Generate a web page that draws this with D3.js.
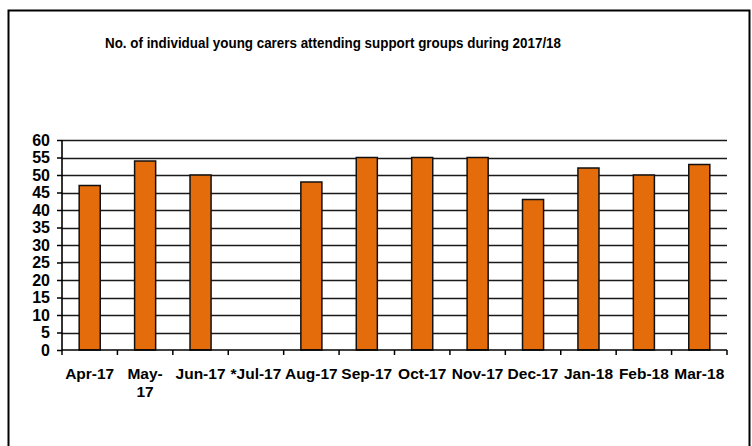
<!DOCTYPE html>
<html>
<head>
<meta charset="utf-8">
<script src="https://cdn.jsdelivr.net/npm/d3@7"></script>
<style>
  html, body { margin: 0; padding: 0; background: #fff; }
  svg { display: block; }
  text { font-family: "Liberation Sans", Arial, sans-serif; font-weight: bold; fill: #000; }
</style>
</head>
<body>
<svg id="chart" width="752" height="446"></svg>
<script>
// Monthly attendance at young carers' support groups, 2017/18
const months = ["Apr-17", "May-17", "Jun-17", "*Jul-17", "Aug-17", "Sep-17", "Oct-17", "Nov-17", "Dec-17", "Jan-18", "Feb-18", "Mar-18"];
const attendees = [47, 54, 50, 0, 48, 55, 55, 55, 43, 52, 50, 53];
const yTicks = [0, 5, 10, 15, 20, 25, 30, 35, 40, 45, 50, 55, 60];
const titleText = "No. of individual young carers attending support groups during 2017/18";

const svg = d3.select("#chart");
const plot = { left: 62, right: 727, top: 140, bottom: 350 };

// outer frame
svg.append("rect")
  .attr("x", 8.5).attr("y", 10.5)
  .attr("width", 741).attr("height", 460)
  .attr("fill", "none").attr("stroke", "#000").attr("stroke-width", 2);

svg.append("text")
  .attr("x", 333).attr("y", 48)
  .attr("text-anchor", "middle")
  .style("font-size", "15px")
  .attr("textLength", 456)
  .attr("lengthAdjust", "spacingAndGlyphs")
  .text(titleText);

const x = d3.scaleBand().domain(months).range([plot.left, plot.right]).paddingInner(0.62).paddingOuter(0.31);
const y = d3.scaleLinear().domain([0, 60]).range([plot.bottom, plot.top]);

// horizontal gridlines
svg.append("g")
  .selectAll("line")
  .data(yTicks.filter(d => d > 0))
  .join("line")
  .attr("x1", plot.left).attr("x2", plot.right)
  .attr("y1", d => Math.round(y(d)) + 0.5).attr("y2", d => Math.round(y(d)) + 0.5)
  .attr("stroke", "#1a1a1a").attr("stroke-width", 1.6);

// bars
svg.append("g")
  .selectAll("rect")
  .data(attendees.map((v, i) => ({ m: months[i], v })).filter(d => d.v > 0))
  .join("rect")
  .attr("x", d => x(d.m))
  .attr("y", d => y(d.v))
  .attr("width", x.bandwidth())
  .attr("height", d => y(0) - y(d.v))
  .attr("fill", "#E46C0A")
  .attr("stroke", "#111").attr("stroke-width", 1.5);

// y axis
const yAxis = d3.axisLeft(y).tickValues(yTicks).tickSize(5).tickPadding(7);
const gy = svg.append("g").attr("transform", `translate(${plot.left},0)`).call(yAxis);
gy.select(".domain").attr("stroke", "#000").attr("stroke-width", 1.6).attr("d", `M0,${plot.top}V${plot.bottom}`);
gy.selectAll(".tick line").attr("stroke", "#000").attr("stroke-width", 1.5);
gy.selectAll(".tick text").style("font-size", "16px").style("font-family", "'Liberation Sans', Arial, sans-serif").style("font-weight", "bold").attr("fill", "#000");

// x axis: ticks at category boundaries
const step = (plot.right - plot.left) / months.length;
const gx = svg.append("g").attr("transform", `translate(0,${plot.bottom})`);
gx.append("line")
  .attr("x1", plot.left).attr("x2", plot.right)
  .attr("stroke", "#000").attr("stroke-width", 1.6);
gx.selectAll("line.tk")
  .data(d3.range(months.length + 1))
  .join("line").attr("class", "tk")
  .attr("x1", i => plot.left + i * step).attr("x2", i => plot.left + i * step)
  .attr("y1", 0).attr("y2", 5)
  .attr("stroke", "#000").attr("stroke-width", 1.5);

const xAxisLabels = gx.selectAll("text.lbl")
  .data(months)
  .join("text").attr("class", "lbl")
  .attr("x", d => x(d) + x.bandwidth() / 2)
  .attr("y", 29)
  .attr("text-anchor", "middle")
  .style("font-size", "15.5px");
xAxisLabels.each(function(d) {
  const t = d3.select(this);
  if (d === "May-17") {
    t.append("tspan").attr("x", x(d) + x.bandwidth() / 2).text("May-");
    t.append("tspan").attr("x", x(d) + x.bandwidth() / 2).attr("dy", 18).text("17");
  } else {
    t.text(d);
  }
});
</script>
</body>
</html>
